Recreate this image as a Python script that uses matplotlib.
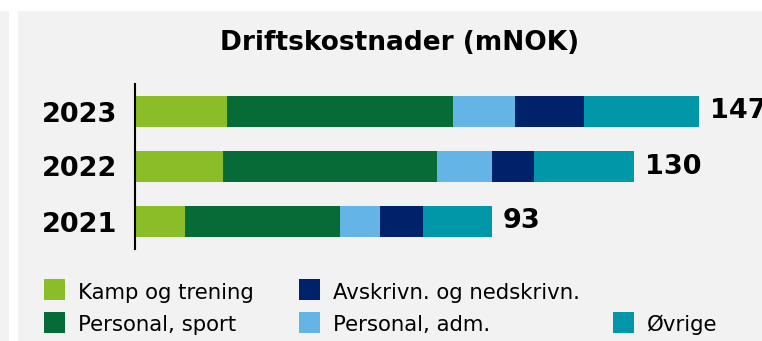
import matplotlib
matplotlib.use("Agg")
import matplotlib.pyplot as plt
from matplotlib.patches import Rectangle

W, H = 762, 341

years = ["2021", "2022", "2023"]
kamp = [13.0, 23.0, 24.0]
personal_sport = [40.5, 55.7, 59.0]
personal_adm = [10.4, 14.3, 16.0]
avskrivn = [11.2, 11.1, 18.0]
ovrige = [17.9, 25.9, 30.0]
totals = [93, 130, 147]

series = [kamp, personal_sport, personal_adm, avskrivn, ovrige]
colors = ["#8abd28", "#066b37", "#64b5e6", "#00226a", "#0098a9"]

legend_labels = ["Kamp og trening", "Personal, sport",
                 "Avskrivn. og nedskrivn.", "Personal, adm.", "Øvrige"]
legend_colors = [colors[0], colors[1], colors[3], colors[2], colors[4]]
legend_cols = [44, 44, 299, 299, 613]
legend_rows = [0, 1, 0, 1, 1]

bg = "#f2f2f2"


def fx(x):
    return x / W


def fy(y):
    # pixel rows counted from the top
    return 1 - y / H


fig = plt.figure(figsize=(W / 100, H / 100), dpi=100, facecolor="white")

# grey panels behind the chart
fig.add_artist(Rectangle((0, 0), fx(9), fy(11), transform=fig.transFigure,
                         facecolor=bg, edgecolor="none", zorder=0))
fig.add_artist(Rectangle((fx(18), 0), 1 - fx(18), fy(11), transform=fig.transFigure,
                         facecolor=bg, edgecolor="none", zorder=0))

px_per_unit = 3.835
xmax = 160
ax = fig.add_axes([fx(135), fy(249), xmax * px_per_unit / W, 165 / H])
ax.set_facecolor("none")

y = list(range(len(years)))
left = [0.0] * len(years)
for vals, c in zip(series, colors):
    ax.barh(y, vals, left=left, height=0.56, color=c, edgecolor="none")
    left = [l + v for l, v in zip(left, vals)]

for yi, tot in zip(y, totals):
    ax.annotate(str(tot), (tot, yi), xytext=(8, 0), textcoords="offset points",
                va="center", ha="left", fontsize=19.5, fontweight="bold",
                annotation_clip=False)

ax.set_xlim(0, xmax)
ax.set_ylim(-0.5, len(years) - 0.5)
ax.set_yticks(y)
ax.set_yticklabels(years, fontsize=19.5, fontweight="bold")
ax.tick_params(axis="y", length=0, pad=13)
ax.set_xticks([])
for s in ["top", "right", "bottom"]:
    ax.spines[s].set_visible(False)
ax.spines["left"].set_linewidth(1.5)
ax.spines["left"].set_color("black")

fig.text(fx(400), fy(50), "Driftskostnader (mNOK)", ha="center", va="baseline",
         fontsize=19, fontweight="bold")

# legend, three columns over two rows
row_top = [279, 312]
row_base = [298.7, 331.3]
for lab, c, x0, r in zip(legend_labels, legend_colors, legend_cols, legend_rows):
    fig.add_artist(Rectangle((fx(x0), fy(row_top[r] + 21)), fx(21), 21 / H,
                             transform=fig.transFigure, facecolor=c, edgecolor="none"))
    fig.text(fx(x0 + 34), fy(row_base[r]), lab, ha="left", va="baseline",
             fontsize=15.3)

fig.savefig("out.png", dpi=100, facecolor="white")
